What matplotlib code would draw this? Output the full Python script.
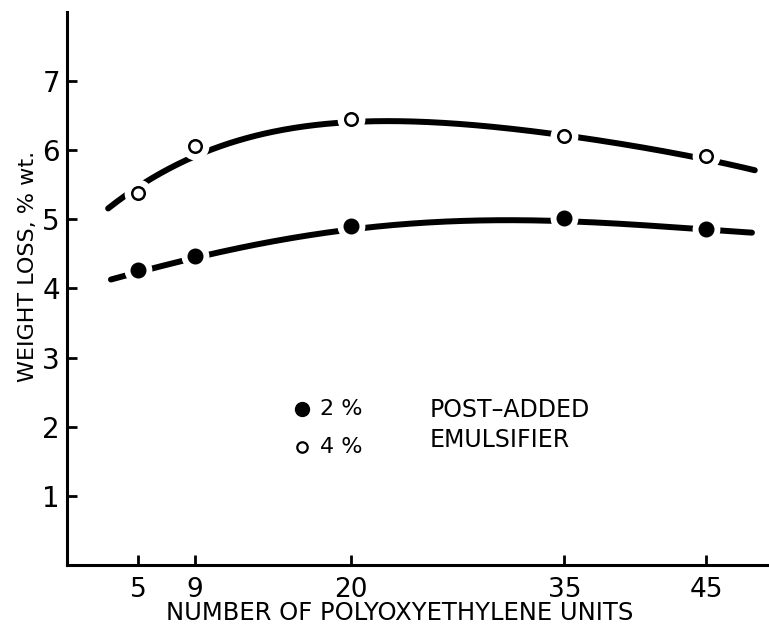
"""
Weight loss vs number of polyoxyethylene units, for 2 % and 4 %
post-added emulsifier.
"""

import numpy as np
import matplotlib
matplotlib.use("Agg")
import matplotlib.pyplot as plt

# ---------------- DATA ----------------
units = [5, 9, 20, 35, 45]
loss_2pct = [4.27, 4.47, 4.91, 5.02, 4.86]
loss_4pct = [5.38, 6.06, 6.45, 6.21, 5.92]

# points
trend_x_2pct = [3.1, 5.9, 8.4, 10.1, 19.0, 21.0, 33.3, 35.8, 44.0, 48.2]
trend_2pct = [4.12, 4.26, 4.40, 4.47, 4.80, 4.86, 4.96, 4.93, 4.87, 4.80]
trend_x_4pct = [2.9, 5.7, 8.9, 10.3, 19.1, 21.0, 27.5, 33.3, 35.8, 44.0, 48.4]
trend_4pct = [5.21, 5.53, 5.86, 5.99, 6.35, 6.40, 6.38, 6.28, 6.18, 5.86, 5.70]

x_ticks = [5, 9, 20, 35, 45]
x_tick_labels = ["5", "9", "20", "35", "45"]
y_ticks = [1, 2, 3, 4, 5, 6, 7]

plt.rcParams["font.family"] = ["DejaVu Sans"]

fig = plt.figure(figsize=(7.69, 6.26), dpi=100)
ax = fig.add_axes([0.087, 0.0975, 0.913, 0.8835])


def smooth(tx, ty, mx, my):
    """Smooth quartic through the trend-line readings and the markers."""
    xs = np.array(list(tx) + list(mx))
    ys = np.array(list(ty) + list(my))
    coef = np.polyfit(xs, ys, 4)
    grid = np.linspace(tx[0], tx[-1], 300)
    return grid, np.polyval(coef, grid)


for ys, tx, ty, filled in [(loss_2pct, trend_x_2pct, trend_2pct, True),
                           (loss_4pct, trend_x_4pct, trend_4pct, False)]:
    gx, gy = smooth(tx, ty, units, ys)
    ax.plot(gx, gy, color="black", lw=4.3, solid_capstyle="round", zorder=2)
    # white halo cuts the line around each marker
    ax.scatter(units, ys, s=20 ** 2, c="white", linewidths=0, zorder=3)
    if filled:
        ax.plot(units, ys, "o", ms=10.5, color="black", zorder=4)
    else:
        ax.plot(units, ys, "o", ms=9, mfc="white", mec="black", mew=1.8, zorder=4)

ax.set_xlim(0, 49.4)
ax.set_ylim(0, 8.0)

for side in ["top", "right"]:
    ax.spines[side].set_visible(False)
for side in ["left", "bottom"]:
    ax.spines[side].set_linewidth(2.2)

ax.set_xticks(x_ticks)
ax.set_xticklabels(x_tick_labels)
ax.set_yticks(y_ticks)
ax.tick_params(axis="both", direction="in", length=7, width=2)
ax.tick_params(axis="x", pad=9, labelsize=19)
ax.tick_params(axis="y", pad=5, labelsize=20)

fig.text(0.52, 0.0096, "NUMBER OF POLYOXYETHYLENE UNITS", fontsize=17.5,
         ha="center", va="baseline")
fig.text(0.036, 0.575, "WEIGHT LOSS, % wt.", rotation=90, fontsize=16,
         ha="center", va="center")

# ---------------- LEGEND ----------------
ax.plot([0.335], [0.282], "o", ms=10, color="black", transform=ax.transAxes,
        clip_on=False)
ax.plot([0.335], [0.213], "o", ms=7.5, mfc="white", mec="black", mew=1.6,
        transform=ax.transAxes, clip_on=False)
ax.text(0.36, 0.282, "2 %", fontsize=16, va="center", transform=ax.transAxes)
ax.text(0.36, 0.213, "4 %", fontsize=16, va="center", transform=ax.transAxes)
ax.text(0.517, 0.280, "POST\u2013ADDED", fontsize=17, va="center",
        transform=ax.transAxes)
ax.text(0.517, 0.226, "EMULSIFIER", fontsize=17, va="center",
        transform=ax.transAxes)

fig.savefig("out.png", dpi=100)
